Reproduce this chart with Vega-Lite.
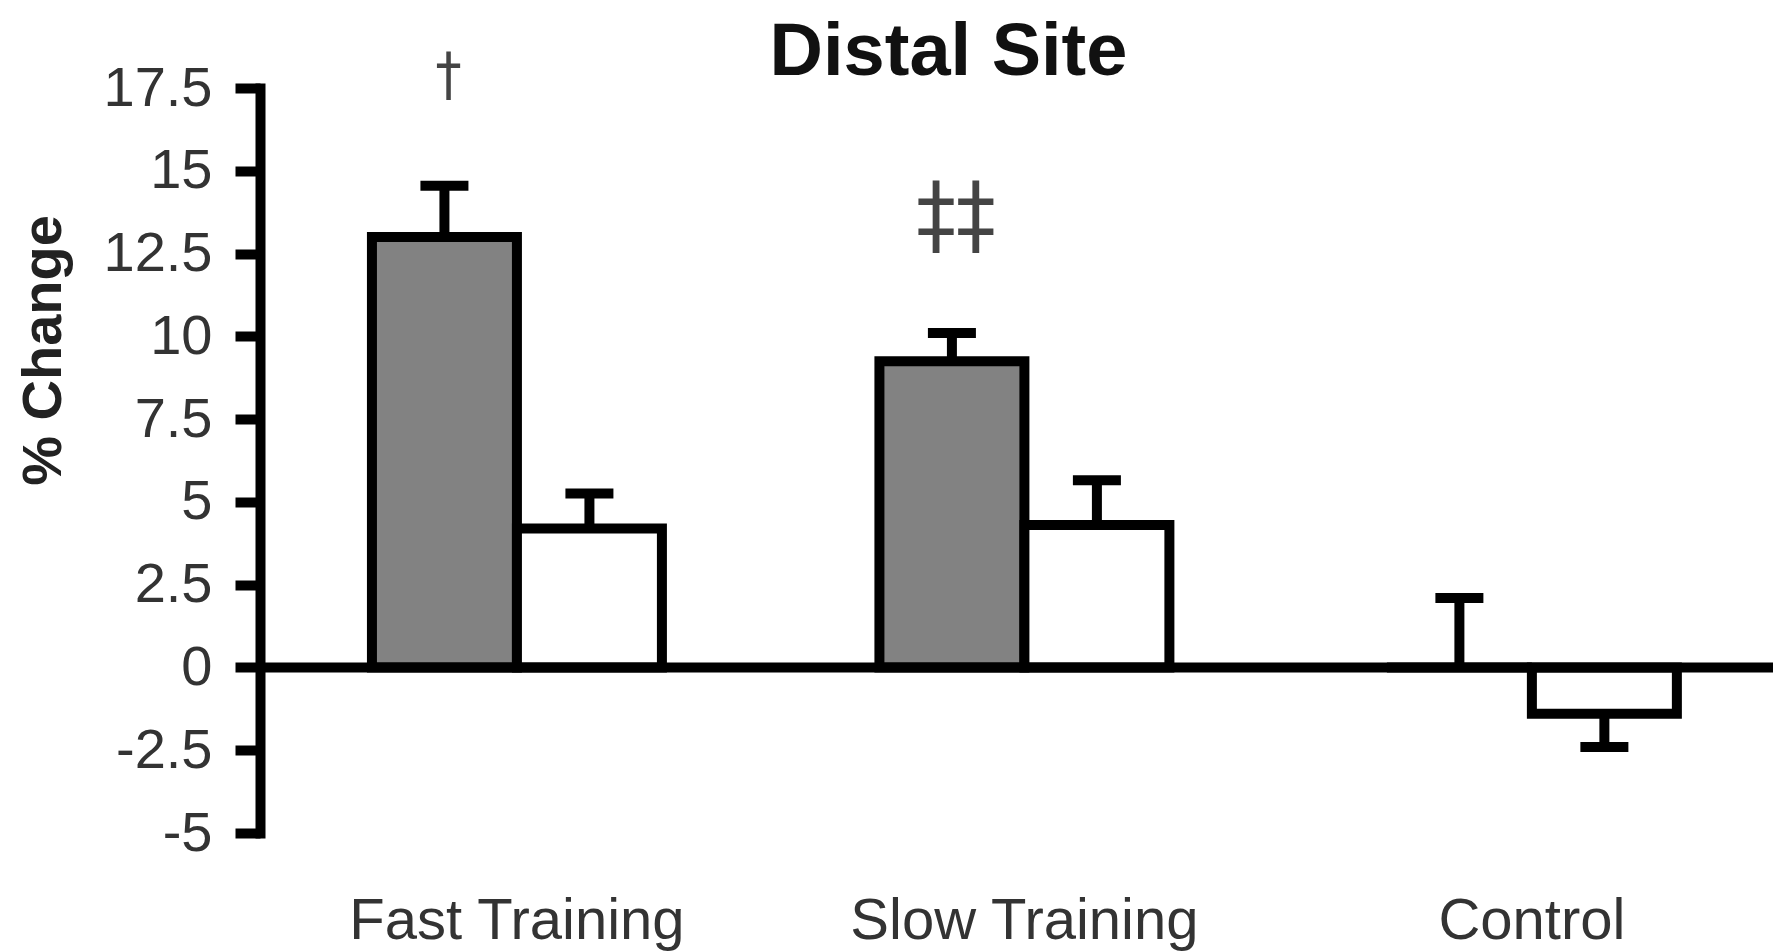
{
  "$schema": "https://vega.github.io/schema/vega-lite/v6.json",
  "width": 1513,
  "height": 745,
  "autosize": {"type": "none"},
  "padding": {"left": 260, "top": 88, "right": 0, "bottom": 119},
  "background": "white",
  "config": {"view": {"stroke": null}, "font": "Liberation Sans"},
  "title": {
    "text": "Distal Site",
    "fontSize": 74,
    "fontWeight": "bold",
    "color": "#111111",
    "frame": "group",
    "anchor": "middle",
    "baseline": "alphabetic",
    "offset": 11,
    "dx": -68,
    "dy": 112
  },
  "datasets": {
    "changes": [
      {"group": "Fast Training", "series": "first", "value": 13.0, "err": 14.55},
      {"group": "Fast Training", "series": "second", "value": 4.2, "err": 5.25},
      {"group": "Slow Training", "series": "first", "value": 9.25, "err": 10.1},
      {"group": "Slow Training", "series": "second", "value": 4.3, "err": 5.65},
      {"group": "Control", "series": "first", "value": 0, "err": 2.1},
      {"group": "Control", "series": "second", "value": -1.4, "err": -2.4}
    ],
    "significance": [
      {"group": "Fast Training", "series": "first", "pos": 17.84, "label": "†"},
      {"group": "Slow Training", "series": "first", "pos": 13.55, "label": "‡‡"}
    ]
  },
  "data": {"name": "changes"},
  "layer": [
    {
      "mark": {"type": "bar", "stroke": "black", "strokeWidth": 10, "strokeJoin": "miter"},
      "encoding": {
        "x": {
          "field": "group",
          "type": "nominal",
          "scale": {
            "domain": ["Fast Training", "Slow Training", "Control"],
            "paddingInner": 0.4286,
            "paddingOuter": 0.205,
            "align": 0.538
          },
          "axis": {
            "title": null,
            "domain": false,
            "ticks": false,
            "labelAngle": 0,
            "labelLimit": 0,
            "labelFontSize": 58,
            "labelColor": "#333333",
            "labelPadding": 105,
            "labelBaseline": "alphabetic"
          }
        },
        "xOffset": {
          "field": "series",
          "type": "nominal",
          "scale": {"paddingInner": 0, "paddingOuter": 0}
        },
        "y": {
          "field": "value",
          "type": "quantitative",
          "scale": {"domain": [-5, 17.5], "nice": false, "zero": false},
          "axis": {
            "values": [-5, -2.5, 0, 2.5, 5, 7.5, 10, 12.5, 15, 17.5],
            "labelExpr": "'' + datum.value",
            "grid": false,
            "domainColor": "black",
            "domainWidth": 10,
            "domainCap": "square",
            "tickColor": "black",
            "tickWidth": 10,
            "tickSize": 25,
            "labelFontSize": 56,
            "labelColor": "#333333",
            "labelPadding": 23,
            "labelFlush": false,
            "labelOverlap": false,
            "title": "% Change",
            "titleFontSize": 56,
            "titleFontWeight": "bold",
            "titleColor": "#222222",
            "titleAngle": 270,
            "titleX": -188,
            "titleY": 262,
            "titleAlign": "center",
            "titleBaseline": "bottom"
          }
        },
        "fill": {
          "field": "series",
          "type": "nominal",
          "scale": {"domain": ["first", "second"], "range": ["#828282", "#ffffff"]},
          "legend": null
        }
      }
    },
    {
      "mark": {"type": "rule", "strokeWidth": 10, "color": "black"},
      "encoding": {
        "x": {"field": "group", "type": "nominal"},
        "xOffset": {"field": "series", "type": "nominal"},
        "y": {"field": "value", "type": "quantitative"},
        "y2": {"field": "err"}
      }
    },
    {
      "mark": {"type": "tick", "thickness": 10, "color": "black", "opacity": 1},
      "encoding": {
        "x": {"field": "group", "type": "nominal"},
        "xOffset": {"field": "series", "type": "nominal"},
        "y": {"field": "err", "type": "quantitative"},
        "size": {"value": 48}
      }
    },
    {
      "data": {"values": [{"baseline": 0}]},
      "mark": {"type": "rule", "strokeWidth": 10, "color": "black"},
      "encoding": {
        "y": {"field": "baseline", "type": "quantitative"}
      }
    },
    {
      "data": {"name": "significance"},
      "mark": {"type": "text", "color": "#444444", "baseline": "middle", "align": "center", "font": "DejaVu Sans Condensed", "dx": 4},
      "encoding": {
        "x": {"field": "group", "type": "nominal"},
        "xOffset": {"field": "series", "type": "nominal"},
        "y": {"field": "pos", "type": "quantitative"},
        "text": {"field": "label"},
        "size": {"condition": {"test": "datum.label === '†'", "value": 58}, "value": 88}
      }
    }
  ]
}
